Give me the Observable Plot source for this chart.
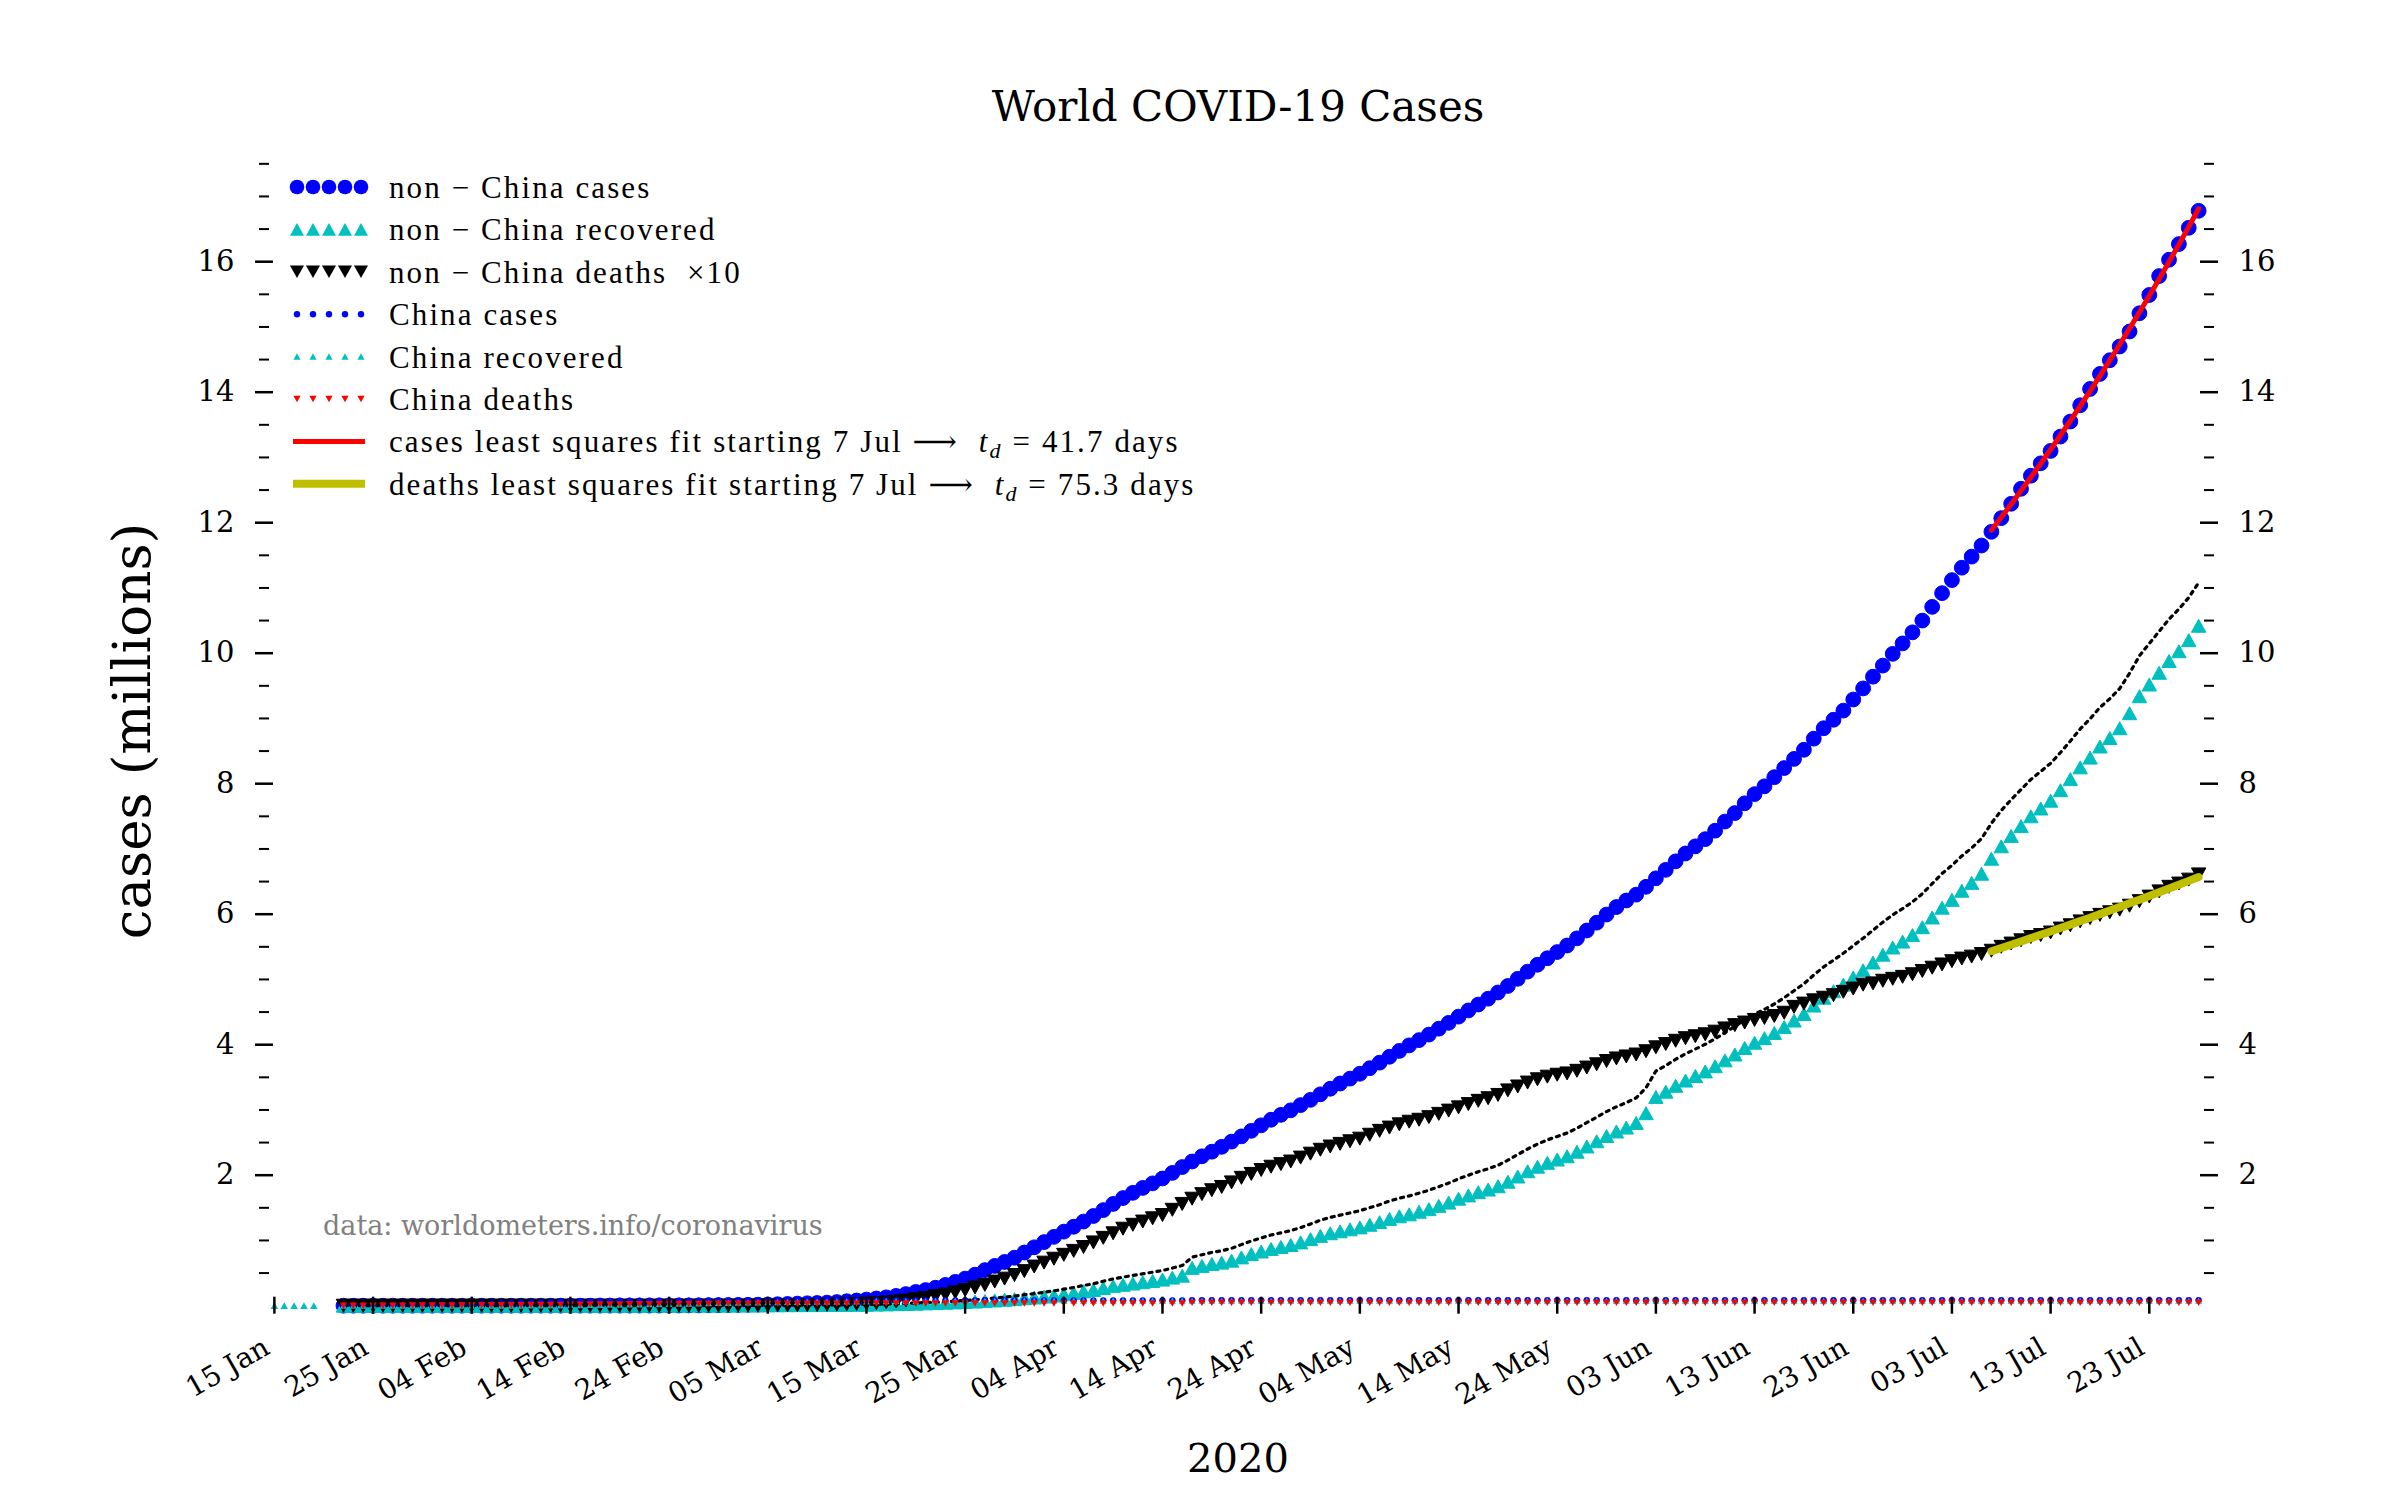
<!DOCTYPE html>
<html><head><meta charset="utf-8">
<script src="https://cdn.jsdelivr.net/npm/d3@7"></script>
<script src="https://cdn.jsdelivr.net/npm/@observablehq/plot@0.6"></script>
<style>
html,body{margin:0;padding:0;background:#fff;}
#wrap{position:relative;width:2400px;height:1500px;overflow:hidden;background:#fff;}
#wrap > svg{position:absolute;left:0;top:0;}
</style></head>
<body><div id="wrap"></div>
<script>
// ---------------- data (millions), daily from 22 Jan 2020 to 28 Jul 2020 ----------------
const firstDay = "2020-01-22";
const nonChinaCases = [
 0.00001,0.00001,0.00002,0.00003,0.00004,0.00005,0.00006,0.00007,0.00008,0.0001,
 0.0001,0.00015,0.00015,0.0002,0.0002,0.00025,0.0003,0.0003,0.00035,0.0004,0.0004,0.0004,0.0005,0.0005,0.0005,0.0007,0.0008,0.0009,0.001,0.0011,0.0013,0.0016,0.002,0.0024,0.0029,0.0037,0.0046,0.0058,0.0072,
 0.009,0.011,0.013,0.015,0.018,0.022,0.026,0.032,0.037,0.041,0.047,0.056,0.068,0.080,0.094,0.110,0.128,0.150,0.178,0.210,0.240,0.275,0.318,0.365,0.415,0.475,0.545,0.610,0.670,0.735,0.815,
 0.895,0.975,1.055,1.135,1.21,1.29,1.375,1.465,1.56,1.65,1.73,1.805,1.875,1.95,2.035,2.125,2.21,2.29,2.36,2.435,2.515,2.595,2.68,2.765,2.85,2.925,2.995,3.075,3.155,3.24,
 3.325,3.405,3.48,3.555,3.64,3.725,3.815,3.905,3.99,4.07,4.155,4.245,4.335,4.43,4.525,4.615,4.705,4.8,4.9,5.01,5.12,5.225,5.325,5.42,5.52,5.63,5.75,5.87,5.995,6.11,6.21,
 6.30,6.42,6.55,6.68,6.81,6.93,7.04,7.15,7.28,7.42,7.55,7.70,7.84,7.96,8.10,8.24,8.38,8.52,8.69,8.85,8.98,9.12,9.29,9.46,9.64,9.81,9.99,10.15,10.32,10.50,
 10.71,10.92,11.12,11.31,11.48,11.65,11.86,12.07,12.29,12.52,12.72,12.91,13.10,13.32,13.55,13.80,14.05,14.28,14.49,14.70,14.93,15.21,15.49,15.78,16.03,16.27,16.52,16.78
];
const nonChinaRecovered = [
 0,0,0,0,0,0,0,0,0,0,
 0,0,0,0,0,0,0,0,0.0001,0.0001,0.0001,0.0002,0.0002,0.0002,0.0003,0.0003,0.0004,0.0005,0.0006,0.0007,0.0008,0.001,0.0011,0.0013,0.0015,0.0018,0.0021,0.0024,0.0027,
 0.003,0.0035,0.004,0.005,0.006,0.007,0.008,0.0085,0.009,0.0095,0.01,0.011,0.012,0.013,0.015,0.017,0.02,0.023,0.027,0.031,0.036,0.04,0.045,0.05,0.056,0.063,0.071,0.08,0.09,0.1,0.115,
 0.125,0.14,0.155,0.175,0.195,0.22,0.24,0.27,0.3,0.32,0.34,0.36,0.38,0.4,0.43,0.46,0.58,0.61,0.64,0.66,0.69,0.74,0.79,0.83,0.87,0.9,0.93,0.97,1.02,1.07,
 1.11,1.14,1.17,1.2,1.24,1.28,1.33,1.37,1.4,1.44,1.48,1.53,1.58,1.64,1.69,1.74,1.78,1.83,1.9,1.98,2.06,2.13,2.19,2.24,2.29,2.36,2.44,2.52,2.6,2.67,2.73,
 2.8,2.95,3.2,3.28,3.37,3.45,3.52,3.59,3.67,3.76,3.85,3.95,4.03,4.1,4.18,4.27,4.37,4.47,4.6,4.72,4.82,4.92,5.03,5.14,5.26,5.38,5.49,5.58,5.68,5.8,
 5.95,6.1,6.22,6.36,6.48,6.62,6.85,7.04,7.2,7.35,7.5,7.62,7.74,7.9,8.07,8.25,8.4,8.57,8.7,8.85,9.08,9.34,9.52,9.7,9.88,10.03,10.2,10.42
];
const nonChinaDeathsX10 = [
 0,0,0,0,0,0,0,0,0,0,
 0,0,0,0,0,0,0,0,0,0,0,0,0,0,0.0001,0.0001,0.0001,0.0001,0.0001,0.0001,0.0002,0.0002,0.0002,0.0003,0.0003,0.0004,0.0005,0.0006,0.0008,
 0.001,0.0013,0.0017,0.0022,0.0029,0.0036,0.0045,0.0065,0.0085,0.011,0.014,0.017,0.022,0.027,0.033,0.041,0.051,0.064,0.080,0.099,0.12,0.145,0.17,0.205,0.24,0.28,0.32,0.37,0.415,0.47,0.53,
 0.6,0.66,0.72,0.78,0.84,0.9,0.97,1.04,1.11,1.18,1.24,1.29,1.34,1.39,1.47,1.56,1.64,1.71,1.77,1.82,1.89,1.96,2.02,2.08,2.13,2.17,2.21,2.27,2.33,2.39,
 2.44,2.48,2.52,2.56,2.62,2.68,2.73,2.78,2.82,2.85,2.89,2.94,2.99,3.04,3.09,3.14,3.18,3.23,3.30,3.36,3.42,3.47,3.51,3.54,3.56,3.60,3.65,3.70,3.75,3.79,3.82,
 3.85,3.9,3.96,4.01,4.06,4.1,4.13,4.16,4.2,4.25,4.3,4.34,4.38,4.41,4.44,4.49,4.58,4.63,4.68,4.72,4.76,4.81,4.86,4.92,4.94,4.98,5.01,5.04,5.08,5.13,
 5.18,5.23,5.28,5.32,5.35,5.39,5.44,5.5,5.55,5.6,5.65,5.68,5.72,5.78,5.83,5.89,5.94,5.99,6.03,6.07,6.13,6.2,6.27,6.35,6.42,6.47,6.53,6.61
];
// unlabelled dotted curve (recovered + deaths)
const nonChinaClosed = [
 0,0,0,0,0,0,0,0,0,0,
 0,0,0,0,0,0,0,0,0.0001,0.0001,0.0001,0.0002,0.0002,0.0002,0.0003,0.0003,0.0004,0.0005,0.0006,0.0007,0.0008,0.001,0.0011,0.0013,0.0015,0.0018,0.0021,0.0024,0.0028,
 0.0031,0.0036,0.0042,0.0052,0.0063,0.0074,0.0085,0.0092,0.0099,0.0106,0.0114,0.0127,0.0142,0.0157,0.0183,0.0211,0.0251,0.0294,0.035,0.0409,0.048,0.0545,0.062,0.0705,0.08,0.091,0.103,0.117,0.1315,0.147,0.168,
 0.185,0.206,0.227,0.253,0.279,0.31,0.337,0.374,0.411,0.438,0.464,0.489,0.514,0.539,0.577,0.616,0.744,0.781,0.817,0.842,0.879,0.936,0.992,1.038,1.083,1.117,1.151,1.197,1.253,1.309,
 1.354,1.388,1.422,1.456,1.502,1.548,1.603,1.648,1.682,1.725,1.769,1.824,1.879,1.944,1.999,2.054,2.098,2.153,2.23,2.316,2.402,2.477,2.541,2.594,2.646,2.72,2.805,2.89,2.975,3.049,3.112,
 3.185,3.34,3.596,3.681,3.776,3.86,3.933,4.006,4.09,4.185,4.28,4.384,4.468,4.541,4.624,4.719,4.828,4.933,5.068,5.192,5.296,5.401,5.516,5.632,5.754,5.878,5.991,6.084,6.188,6.313,
 6.468,6.623,6.748,6.892,7.015,7.159,7.394,7.59,7.755,7.91,8.065,8.188,8.312,8.478,8.653,8.839,8.994,9.169,9.303,9.457,9.693,9.96,10.147,10.335,10.522,10.677,10.853,11.081
];
const chinaCases = [
 0.0006,0.0006,0.0009,0.0014,0.0021,0.0029,0.0055,0.006,0.0078,0.0098,
 0.0118,0.0144,0.0172,0.0204,0.0244,0.0282,0.0314,0.0344,0.0371,0.0401,0.0424,0.0443,0.0597,0.0663,0.0682,0.0705,0.0725,0.0743,0.0752,0.0759,0.0768,0.0769,0.0771,0.0778,0.0779,0.0782,0.0785,0.0788,0.0792,
 0.0795,0.0801,0.0802,0.0804,0.0805,0.0807,0.0808,0.0809,0.0809,0.0809,0.081,0.081,0.081,0.081,0.081,0.081,0.081,0.081,0.0811,0.0811,0.0811,0.0811,0.0811,0.0812,0.0812,0.0813,0.0813,0.0814,0.0814,0.0815,0.0815,
 0.0816,0.0816,0.0816,0.0817,0.0817,0.0817,0.0818,0.0818,0.0819,0.0819,0.0819,0.082,0.0821,0.0822,0.0823,0.0823,0.0824,0.0824,0.0824,0.0825,0.0825,0.0825,0.0825,0.0826,0.0826,0.0827,0.0828,0.0828,0.0828,0.0829,
 0.0829,0.0829,0.0829,0.0829,0.0829,0.0829,0.0829,0.0829,0.0829,0.0829,0.083,0.083,0.083,0.083,0.083,0.083,0.083,0.083,0.083,0.083,0.083,0.083,0.083,0.083,0.083,0.083,0.083,0.083,0.083,0.083,0.083,
 0.083,0.083,0.083,0.083,0.083,0.083,0.083,0.083,0.083,0.083,0.083,0.0831,0.0831,0.0831,0.0832,0.0832,0.0832,0.0832,0.0832,0.0833,0.0833,0.0834,0.0834,0.0834,0.0834,0.0834,0.0835,0.0835,0.0835,0.0835,
 0.0835,0.0835,0.0835,0.0835,0.0835,0.0835,0.0836,0.0836,0.0836,0.0836,0.0836,0.0836,0.0836,0.0836,0.0836,0.0836,0.0837,0.0837,0.0837,0.0837,0.0837,0.0837,0.0838,0.0839,0.084,0.0841,0.0842,0.0843
];
const chinaRecovered = [
 0.00003,0.00003,0.00004,0.00004,0.00005,0.00006,0.0001,0.0001,0.0001,0.0002,
 0.0003,0.0005,0.0006,0.0009,0.0011,0.0015,0.002,0.0027,0.0033,0.004,0.0048,0.0057,0.0069,0.0085,0.01,0.0119,0.0141,0.0164,0.0186,0.0202,0.0226,0.0246,0.0258,0.0278,0.0304,0.0328,0.0364,0.0398,0.0419,
 0.0445,0.0474,0.05,0.0525,0.0535,0.0555,0.0575,0.0592,0.0608,0.062,0.0633,0.0647,0.0659,0.067,0.0677,0.0686,0.0693,0.0697,0.0702,0.0707,0.0715,0.0721,0.0724,0.0728,0.0731,0.0737,0.0743,0.0747,0.0752,0.0756,0.0759,
 0.0761,0.0763,0.0765,0.0766,0.0767,0.0768,0.0769,0.077,0.0771,0.0771,0.0771,0.0772,0.0772,0.0772,0.0772,0.0772,0.0773,0.0774,0.0774,0.0775,0.0775,0.0775,0.0776,0.0776,0.0776,0.0777,0.0777,0.0777,0.0777,0.0777,
 0.0777,0.0777,0.0777,0.0777,0.0778,0.0778,0.0778,0.0778,0.0778,0.0778,0.0778,0.0778,0.0778,0.0778,0.0779,0.0779,0.0779,0.0779,0.0779,0.0779,0.0779,0.0779,0.0779,0.0779,0.0779,0.0779,0.0779,0.078,0.078,0.078,0.078,
 0.078,0.078,0.078,0.078,0.078,0.078,0.078,0.078,0.078,0.078,0.078,0.078,0.078,0.0781,0.0781,0.0781,0.0782,0.0782,0.0782,0.0783,0.0783,0.0784,0.0784,0.0784,0.0785,0.0785,0.0785,0.0786,0.0786,0.0786,
 0.0786,0.0786,0.0786,0.0787,0.0787,0.0787,0.0787,0.0787,0.0787,0.0787,0.0787,0.0787,0.0787,0.0787,0.0788,0.0788,0.0788,0.0788,0.0788,0.0788,0.0788,0.0788,0.0788,0.0788,0.0789,0.0789,0.0789,0.0789
];
const chinaDeathsX10 = [
 0.0002,0.0002,0.0003,0.0004,0.0006,0.0008,0.0013,0.0017,0.0017,0.0021,
 0.0026,0.003,0.0036,0.0043,0.0049,0.0056,0.0064,0.0072,0.0081,0.0091,0.0102,0.0111,0.0126,0.0138,0.0152,0.0167,0.0177,0.0187,0.02,0.0212,0.0224,0.0235,0.0244,0.0259,0.0266,0.0272,0.0274,0.0279,0.0284,
 0.0287,0.0291,0.0294,0.0298,0.0301,0.0304,0.0307,0.031,0.0312,0.0314,0.0316,0.0317,0.0318,0.0319,0.032,0.0321,0.0323,0.0324,0.0325,0.0325,0.0326,0.0326,0.0327,0.0328,0.0328,0.0329,0.0329,0.033,0.033,0.033,0.0331,
 0.0331,0.0332,0.0332,0.0333,0.0333,0.0333,0.0333,0.0333,0.0334,0.0334,0.0334,0.0334,0.0334,0.0334,0.0334,0.0334,0.0463,0.0463,0.0463,0.0463,0.0463,0.0463,0.0463,0.0463,0.0463,0.0463,0.0463,0.0463,0.0463,0.0463,
 0.0463,0.0463,0.0463,0.0463,0.0463,0.0463,0.0463,0.0463,0.0463,0.0463,0.0463,0.0463,0.0463,0.0463,0.0463,0.0463,0.0463,0.0463,0.0463,0.0463,0.0463,0.0463,0.0463,0.0463,0.0463,0.0463,0.0463,0.0463,0.0463,0.0463,0.0463,
 0.0463,0.0463,0.0463,0.0463,0.0463,0.0463,0.0463,0.0463,0.0463,0.0463,0.0463,0.0463,0.0463,0.0463,0.0463,0.0463,0.0463,0.0463,0.0463,0.0463,0.0463,0.0463,0.0463,0.0463,0.0463,0.0463,0.0463,0.0463,0.0463,0.0463,
 0.0463,0.0463,0.0463,0.0463,0.0463,0.0463,0.0463,0.0463,0.0463,0.0463,0.0463,0.0463,0.0463,0.0463,0.0463,0.0463,0.0463,0.0463,0.0463,0.0463,0.0463,0.0463,0.0463,0.0463,0.0463,0.0463,0.0463,0.0463
];
// early China-recovered markers (15-19 Jan)
const earlyRecoveredDates = ["2020-01-15","2020-01-16","2020-01-17","2020-01-18","2020-01-19"];
const earlyRecoveredValues = [0,0,0,0,0];

const fitStart = "2020-07-07";
const xDomain = ["2020-01-14","2020-07-29"];
const yDomain = [0, 17.6];
const yMajorTicks = [2,4,6,8,10,12,14,16];
const yMinorTicks = [0.5,1,1.5,2.5,3,3.5,4.5,5,5.5,6.5,7,7.5,8.5,9,9.5,10.5,11,11.5,12.5,13,13.5,14.5,15,15.5,16.5,17,17.5];
const xTickDates = ["2020-01-15","2020-01-25","2020-02-04","2020-02-14","2020-02-24","2020-03-05","2020-03-15","2020-03-25","2020-04-04","2020-04-14","2020-04-24","2020-05-04","2020-05-14","2020-05-24","2020-06-03","2020-06-13","2020-06-23","2020-07-03","2020-07-13","2020-07-23"];
const xTickLabels = ["15 Jan","25 Jan","04 Feb","14 Feb","24 Feb","05 Mar","15 Mar","25 Mar","04 Apr","14 Apr","24 Apr","04 May","14 May","24 May","03 Jun","13 Jun","23 Jun","03 Jul","13 Jul","23 Jul"];

const titleText = "World COVID-19 Cases";
const xLabelText = "2020";
const yLabelText = "cases (millions)";
const sourceText = "data: worldometers.info/coronavirus";
const legendLabels = [
  "non \u2212 China cases",
  "non \u2212 China recovered",
  "non \u2212 China deaths \u00a0\u00d710",
  "China cases",
  "China recovered",
  "China deaths",
  ["cases least squares fit starting 7 Jul \u27f6 ", "41.7"],
  ["deaths least squares fit starting 7 Jul \u27f6 ", "75.3"]
];

// ---------------- build ----------------
const BLUE = "#0000ff", CYAN = "#00bfbf", RED = "#ff0000", OLIVE = "#bfbf00";
const d0 = new Date(firstDay + "T00:00:00Z");
const n = nonChinaCases.length;
const dates = d3.utcDay.range(d0, d3.utcDay.offset(d0, n));
const rows = dates.map((date, i) => ({
  date,
  cases: nonChinaCases[i], rec: nonChinaRecovered[i], deaths: nonChinaDeathsX10[i],
  closed: nonChinaClosed[i], cCases: chinaCases[i], cRec: chinaRecovered[i], cDeaths: chinaDeathsX10[i]
}));
const early = earlyRecoveredDates.map((d, i) => ({date: new Date(d + "T00:00:00Z"), v: earlyRecoveredValues[i]}));
const xticks = xTickDates.map((d, i) => ({date: new Date(d + "T00:00:00Z"), label: xTickLabels[i]}));

function lsqExp(key) {
  const t0 = new Date(fitStart + "T00:00:00Z");
  const pts = rows.filter(r => r.date >= t0 && r[key] > 0);
  const xs = pts.map(p => (p.date - t0) / 864e5);
  const ys = pts.map(p => Math.log(p[key]));
  const mx = d3.mean(xs), my = d3.mean(ys);
  const b = d3.sum(xs, (x, i) => (x - mx) * (ys[i] - my)) / d3.sum(xs, x => (x - mx) ** 2);
  const a = my - b * mx;
  return pts.map((p, i) => ({date: p.date, fit: Math.exp(a + b * xs[i])}));
}
const casesFit = lsqExp("cases");
const deathsFit = lsqExp("deaths");

const triUp = {draw(ctx, size) { const r = Math.sqrt(size / Math.PI); ctx.moveTo(0, -0.9 * r); ctx.lineTo(r, 0.9 * r); ctx.lineTo(-r, 0.9 * r); ctx.closePath(); }};
const triDown = {draw(ctx, size) { const r = Math.sqrt(size / Math.PI); ctx.moveTo(0, 0.9 * r); ctx.lineTo(r, -0.9 * r); ctx.lineTo(-r, -0.9 * r); ctx.closePath(); }};

const W = 2400, H = 1500;
const plot = Plot.plot({
  width: W, height: H,
  marginLeft: 264, marginRight: 192, marginTop: 156.8, marginBottom: 194.8,
  style: {fontFamily: "'DejaVu Serif', serif", fontSize: "29px", background: "#fff", color: "#000", overflow: "visible"},
  x: {type: "utc", domain: xDomain.map(d => new Date(d + "T00:00:00Z"))},
  y: {domain: yDomain},
  marks: [
    Plot.dot(rows, {x: "date", y: "cases", r: 7.4, fill: BLUE, stroke: BLUE, strokeWidth: 1, symbol: "circle"}),
    Plot.dot(rows, {x: "date", y: "rec", r: 7.2, fill: CYAN, stroke: CYAN, strokeWidth: 1, symbol: triUp}),
    Plot.dot(rows, {x: "date", y: "deaths", r: 7.2, fill: "#000", stroke: "#000", strokeWidth: 1, symbol: triDown}),
    Plot.line(rows, {x: "date", y: "closed", stroke: "#000", strokeWidth: 3.2, strokeDasharray: "3,5"}),
    Plot.dot(rows, {x: "date", y: "cCases", r: 3.2, fill: BLUE, symbol: "circle"}),
    Plot.dot(early, {x: "date", y: "v", r: 3.8, fill: CYAN, symbol: triUp}),
    Plot.dot(rows, {x: "date", y: "cRec", r: 3.5, fill: CYAN, symbol: triUp}),
    Plot.dot(rows, {x: "date", y: "cDeaths", r: 3.6, fill: RED, symbol: triDown}),
    Plot.line(casesFit, {x: "date", y: "fit", stroke: RED, strokeWidth: 5}),
    Plot.line(deathsFit, {x: "date", y: "fit", stroke: OLIVE, strokeWidth: 8}),
    // axes (no spines; in-out ticks)
    Plot.axisY(yMajorTicks, {anchor: "left", tickSize: 18, dx: 9, tickPadding: 21, strokeWidth: 2.5, label: null, tickFormat: d => String(d)}),
    Plot.axisY(yMinorTicks, {anchor: "left", tickSize: 10, dx: 5, strokeWidth: 2, label: null, tickFormat: () => ""}),
    Plot.axisY(yMajorTicks, {anchor: "right", tickSize: 18, dx: -9, tickPadding: 21, strokeWidth: 2.5, label: null, tickFormat: d => String(d)}),
    Plot.axisY(yMinorTicks, {anchor: "right", tickSize: 10, dx: -5, strokeWidth: 2, label: null, tickFormat: () => ""}),
    Plot.axisX(xticks.map(d => d.date), {anchor: "bottom", tickSize: 17, dy: -8.5, strokeWidth: 2.5, label: null, tickFormat: () => ""}),
    Plot.text(xticks, {x: "date", frameAnchor: "bottom", text: "label", rotate: -30, textAnchor: "end", lineAnchor: "bottom", dx: -3, dy: 47, fontSize: 28})
  ]
});
const wrap = document.getElementById("wrap");
wrap.appendChild(plot);

// ---------------- overlay: title, labels, source, legend ----------------
const ov = d3.select(wrap).append("svg").attr("width", W).attr("height", H)
  .style("position", "absolute").style("left", 0).style("top", 0).style("pointer-events", "none");
const serif = "'DejaVu Serif', serif";
ov.append("text").attr("x", 1238).attr("y", 121).attr("text-anchor", "middle")
  .attr("font-family", serif).attr("font-size", 42).text(titleText);
ov.append("text").attr("x", 1238).attr("y", 1472).attr("text-anchor", "middle")
  .attr("font-family", serif).attr("font-size", 40).text(xLabelText);
ov.append("text").attr("transform", "translate(150,731) rotate(-90)").attr("text-anchor", "middle")
  .attr("font-family", serif).attr("font-size", 53).text(yLabelText);
ov.append("text").attr("x", 323).attr("y", 1235).attr("fill", "#808080")
  .attr("font-family", serif).attr("font-size", 27).text(sourceText);

const lfont = "'Liberation Serif', 'DejaVu Serif', 'DejaVu Sans', serif";
const handles = [
  {type: "mk", shape: "circle", color: BLUE, s: 7.3},
  {type: "mk", shape: "up", color: CYAN, s: 7},
  {type: "mk", shape: "down", color: "#000", s: 7},
  {type: "mk", shape: "circle", color: BLUE, s: 3.2},
  {type: "mk", shape: "up", color: CYAN, s: 3.6},
  {type: "mk", shape: "down", color: RED, s: 3.6},
  {type: "ln", color: RED, w: 5},
  {type: "ln", color: OLIVE, w: 8}
];
handles.forEach((h, i) => {
  const cy = 187 + 42.4 * i;
  const g = ov.append("g");
  if (h.type === "ln") {
    g.append("line").attr("x1", 293).attr("x2", 365).attr("y1", cy).attr("y2", cy)
      .attr("stroke", h.color).attr("stroke-width", h.w);
  } else {
    for (let k = 0; k < 5; k++) {
      const cx = 297 + 16 * k, s = h.s, v = 0.9 * s;
      if (h.shape === "circle") g.append("circle").attr("cx", cx).attr("cy", cy).attr("r", s).attr("fill", h.color);
      else if (h.shape === "up") g.append("path").attr("d", `M${cx},${cy - v}L${cx + s},${cy + v}L${cx - s},${cy + v}Z`).attr("fill", h.color);
      else g.append("path").attr("d", `M${cx},${cy + v}L${cx + s},${cy - v}L${cx - s},${cy - v}Z`).attr("fill", h.color);
    }
  }
  const lab = legendLabels[i];
  const t = g.append("text").attr("x", 389).attr("y", cy + 11).attr("font-family", lfont).attr("font-size", 31)
    .attr("letter-spacing", "2.1px").attr("xml:space", "preserve");
  if (typeof lab === "string") t.text(lab);
  else {
    t.append("tspan").text(lab[0]);
    t.append("tspan").attr("font-style", "italic").text(" t");
    t.append("tspan").attr("font-style", "italic").attr("font-size", 22).attr("dy", 6).text("d");
    t.append("tspan").attr("dy", -6).text(" = " + lab[1] + " days");
  }
});
</script>
</body></html>
